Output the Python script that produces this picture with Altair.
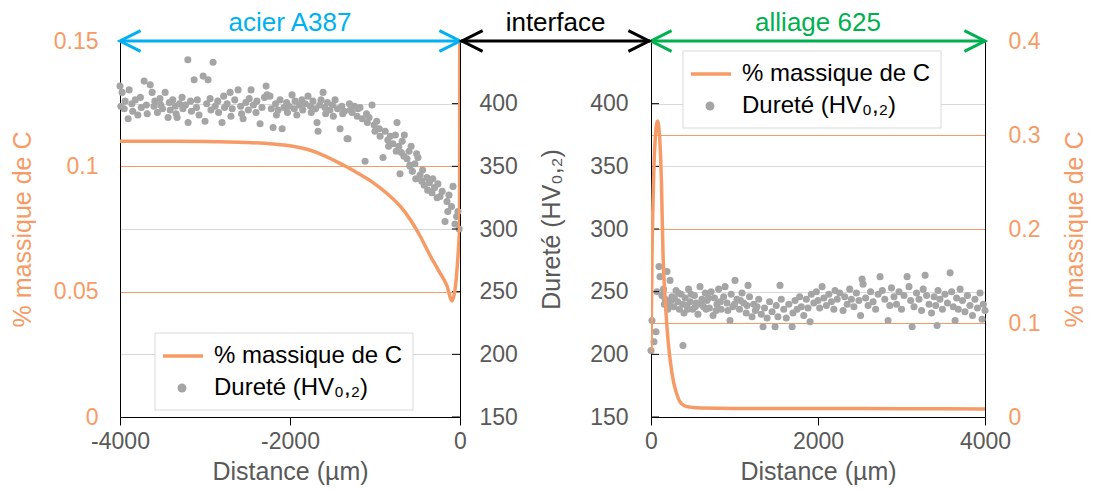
import altair as alt
import pandas as pd

# ---------------- data ----------------
left_hardness = [
    (-4000, 414), (-3990, 398), (-3975, 409), (-3950, 396), (-3940, 402), (-3904, 388), (-3892, 411),
    (-3860, 400), (-3850, 394), (-3820, 403), (-3790, 391), (-3760, 405), (-3750, 397), (-3716, 418),
    (-3690, 399), (-3680, 392), (-3645, 415), (-3622, 409), (-3600, 398), (-3590, 402), (-3560, 393),
    (-3530, 404), (-3520, 399), (-3500, 396), (-3469, 409), (-3434, 389), (-3420, 401), (-3410, 395),
    (-3380, 403), (-3350, 398), (-3340, 392), (-3328, 389), (-3300, 400), (-3270, 405), (-3260, 396),
    (-3230, 399), (-3202, 435), (-3199, 385), (-3170, 402), (-3160, 394), (-3128, 419), (-3100, 397),
    (-3090, 403), (-3070, 391), (-3022, 422), (-3000, 386), (-2980, 400), (-2964, 419), (-2940, 404),
    (-2930, 395), (-2905, 433), (-2880, 398), (-2850, 402), (-2840, 393), (-2800, 385), (-2780, 406),
    (-2770, 397), (-2740, 400), (-2705, 409), (-2695, 390), (-2680, 396), (-2650, 403), (-2611, 411),
    (-2580, 398), (-2570, 392), (-2552, 388), (-2520, 401), (-2490, 395), (-2480, 404), (-2458, 411),
    (-2430, 399), (-2400, 393), (-2390, 402), (-2352, 384), (-2330, 397), (-2300, 405), (-2281, 414),
    (-2270, 407), (-2235, 406), (-2220, 396), (-2199, 381), (-2170, 400), (-2160, 391), (-2140, 395),
    (-2117, 403), (-2093, 380), (-2070, 397), (-2040, 401), (-2030, 393), (-2010, 398), (-1976, 407),
    (-1950, 396), (-1940, 402), (-1920, 391), (-1890, 399), (-1860, 403), (-1850, 395), (-1820, 400),
    (-1788, 406), (-1760, 398), (-1750, 393), (-1730, 402), (-1700, 396), (-1682, 385), (-1670, 378),
    (-1650, 399), (-1635, 403), (-1611, 409), (-1590, 397), (-1580, 392), (-1560, 401), (-1530, 395),
    (-1500, 399), (-1490, 390), (-1470, 403), (-1440, 396), (-1411, 380), (-1390, 398), (-1380, 392),
    (-1360, 394), (-1329, 372), (-1317, 372), (-1300, 400), (-1290, 395), (-1270, 393), (-1240, 398),
    (-1210, 390), (-1200, 396), (-1176, 397), (-1150, 388), (-1117, 354), (-1100, 392), (-1090, 385),
    (-1070, 389), (-1035, 399), (-1010, 383), (-1000, 378), (-980, 386), (-950, 380), (-940, 374),
    (-906, 357), (-880, 378), (-850, 371), (-840, 366), (-820, 374), (-790, 368), (-760, 375),
    (-750, 362), (-741, 385), (-720, 366), (-706, 344), (-690, 361), (-680, 370), (-655, 375),
    (-660, 358), (-623, 356), (-600, 362), (-590, 351), (-588, 350), (-575, 366), (-560, 346),
    (-530, 352), (-520, 340), (-510, 360), (-494, 357), (-470, 343), (-450, 338), (-440, 347),
    (-420, 335), (-390, 341), (-380, 331), (-360, 337), (-330, 329), (-320, 340), (-300, 333),
    (-270, 325), (-260, 336), (-235, 326), (-210, 330), (-176, 306), (-153, 322), (-143, 314),
    (-130, 327), (-100, 318), (-82, 334), (-59, 304), (-40, 310), (-24, 314), (-10, 300),
]

right_hardness = [
    (0, 203), (12, 227), (36, 210), (60, 218), (72, 250), (96, 270), (108, 262), (130, 247),
    (150, 252), (160, 240), (170, 244), (192, 266), (200, 236), (210, 240), (228, 259), (240, 243),
    (250, 246), (270, 238), (280, 245), (300, 251), (320, 242), (330, 249), (340, 236), (360, 248),
    (380, 240), (383, 207), (395, 233), (410, 245), (430, 239), (440, 236), (450, 252), (470, 242),
    (480, 248), (500, 236), (520, 247), (530, 238), (540, 241), (563, 232), (587, 254), (600, 240),
    (610, 244), (630, 238), (650, 249), (660, 236), (670, 243), (690, 245), (700, 237), (720, 250),
    (743, 231), (760, 245), (780, 235), (790, 240), (810, 252), (830, 242), (840, 236), (870, 246),
    (887, 254), (910, 241), (920, 235), (946, 227), (960, 248), (980, 238), (1000, 240), (1006, 259),
    (1030, 244), (1060, 236), (1070, 243), (1090, 249), (1110, 241), (1140, 233), (1150, 239),
    (1162, 255), (1180, 246), (1210, 230), (1230, 240), (1250, 235), (1270, 238), (1290, 244),
    (1320, 232), (1342, 222), (1360, 237), (1390, 229), (1420, 242), (1450, 234), (1486, 222),
    (1500, 239), (1520, 230), (1545, 255), (1560, 244), (1590, 236), (1620, 229), (1650, 240),
    (1690, 222), (1700, 233), (1725, 243), (1750, 236), (1780, 246), (1800, 238), (1830, 231),
    (1860, 244), (1880, 237), (1905, 226), (1920, 248), (1950, 241), (1980, 250), (2000, 243),
    (2020, 237), (2049, 254), (2070, 245), (2100, 239), (2130, 248), (2160, 242), (2190, 236),
    (2204, 251), (2230, 244), (2260, 249), (2300, 235), (2320, 246), (2350, 240), (2380, 252),
    (2400, 244), (2430, 238), (2460, 249), (2490, 243), (2510, 231), (2528, 260), (2540, 256),
    (2570, 245), (2600, 239), (2630, 250), (2660, 242), (2690, 236), (2720, 248), (2743, 262),
    (2770, 251), (2800, 244), (2839, 227), (2860, 239), (2880, 253), (2910, 246), (2940, 240),
    (2970, 250), (3000, 236), (3030, 247), (3067, 262), (3090, 254), (3110, 243), (3127, 222),
    (3150, 238), (3180, 249), (3210, 244), (3240, 235), (3260, 252), (3283, 263), (3300, 247),
    (3330, 240), (3360, 233), (3390, 246), (3410, 239), (3426, 223), (3438, 251), (3460, 244),
    (3490, 236), (3520, 248), (3550, 241), (3582, 265), (3600, 250), (3620, 238), (3642, 227),
    (3660, 245), (3680, 236), (3702, 252), (3730, 243), (3760, 234), (3790, 247), (3820, 239),
    (3850, 231), (3880, 244), (3910, 237), (3940, 249), (3965, 228), (3980, 240), (4000, 235),
]

left_carbon_dist = [-4000, -3500, -3000, -2500, -2200, -2000, -1800, -1646, -1500, -1329,
                    -1180, -1023, -860, -706, -580, -470, -353, -250, -153, -94, -5, 0]
left_carbon = [0.1100, 0.1100, 0.1099, 0.1095, 0.1089, 0.1082, 0.1068, 0.1050, 0.1027,
               0.0997, 0.0968, 0.0935, 0.0892, 0.0842, 0.0785, 0.0722, 0.0645, 0.0583, 0.0523,
               0.0463, 0.075, 0.31]

right_carbon_dist = [0, 12, 30, 50, 78, 105, 125, 144, 170, 204, 228, 264, 300, 347, 400, 467,
                     600, 1000, 2000, 3000, 4000]
right_carbon = [0.069, 0.17, 0.25, 0.295, 0.315, 0.295, 0.25, 0.173, 0.125, 0.082, 0.062, 0.040,
                0.027, 0.016, 0.012, 0.0105, 0.0095, 0.009, 0.009, 0.0088, 0.0086]

hv_ticks = [150, 200, 250, 300, 350, 400]
c_ticks_left = [0, 0.05, 0.1, 0.15]
c_ticks_right = [0, 0.1, 0.2, 0.3, 0.4]
x_ticks_left = [-4000, -2000, 0]
x_ticks_right = [0, 2000, 4000]

region_labels = ["acier A387", "interface", "alliage 625"]
region_colors = ["#00B0F0", "#000000", "#00B050"]

legend_labels = ["% massique de C", "Dureté (HV\u2080,\u2082)"]

# ---------------- style ----------------
FONT = "Liberation Sans"
ORANGE = "#F79B66"
PT = "#A5A5A5"
TXT = "#595959"
GRID = "#D9D9D9"
W_L, W_R, H = 340, 334, 376
LEFT_HEAD = "M 1 -0.5 L 0 0 L 1 0.5"
RIGHT_HEAD = "M -1 -0.5 L 0 0 L -1 0.5"
HEAD_SIZE = 1700

one = pd.DataFrame({"k": [0]})


def x_enc(domain, values):
    return alt.X(
        "d:Q",
        scale=alt.Scale(domain=domain, nice=False, zero=False),
        axis=alt.Axis(values=values, labelExpr="'' + datum.value", title="Distance (µm)",
                      grid=False, tickColor="black", tickSize=8, domainColor="black",
                      labelColor=TXT, titleColor=TXT, labelPadding=5, titlePadding=6,
                      labelFlush=False),
    )


def hv_enc(orient, title, label_padding, title_padding):
    kw = dict(orient=orient, values=hv_ticks, ticks=False, grid=True, gridColor=GRID,
              domainColor="black", labelColor=TXT, titleColor=TXT, labelPadding=label_padding)
    if title:
        kw["title"] = title
        kw["titlePadding"] = title_padding
    else:
        kw["title"] = None
    return alt.Y("hv:Q", scale=alt.Scale(domain=[150, 450], nice=False, zero=False),
                 axis=alt.Axis(**kw))


def arrow(domain_start, domain_end, label, color, xdomain, xvalues):
    df = pd.DataFrame({"d": [domain_start], "d2": [domain_end],
                       "mid": [(domain_start + domain_end) / 2], "label": [label]})
    base = alt.Chart(df)
    line = base.mark_rule(color=color, strokeWidth=3).encode(
        x=x_enc(xdomain, xvalues), x2="d2:Q", y=alt.value(0))
    h1 = base.mark_point(shape=LEFT_HEAD, size=HEAD_SIZE, color=color, strokeWidth=3,
                         filled=False, opacity=1).encode(x=x_enc(xdomain, xvalues), y=alt.value(0))
    h2 = base.mark_point(shape=RIGHT_HEAD, size=HEAD_SIZE, color=color, strokeWidth=3,
                         filled=False, opacity=1).encode(
        x=alt.X("d2:Q", scale=alt.Scale(domain=xdomain, nice=False, zero=False)), y=alt.value(0))
    txt = base.mark_text(font=FONT, fontSize=26, color=color, baseline="alphabetic").encode(
        x=alt.X("mid:Q", scale=alt.Scale(domain=xdomain, nice=False, zero=False)),
        y=alt.value(-10), text="label:N")
    return [line, h1, h2, txt]


def legend(x0, y0):
    box = alt.Chart(one).mark_rect(fill="white", stroke="#D9D9D9", strokeWidth=1).encode(
        x=alt.value(x0), x2=alt.value(x0 + 258), y=alt.value(y0), y2=alt.value(y0 + 77))
    ln = alt.Chart(one).mark_rule(color=ORANGE, strokeWidth=3.5).encode(
        x=alt.value(x0 + 8), x2=alt.value(x0 + 48), y=alt.value(y0 + 23))
    pt = alt.Chart(one).mark_circle(size=80, color=PT, opacity=1).encode(
        x=alt.value(x0 + 27), y=alt.value(y0 + 55))
    tdf = pd.DataFrame({"t": legend_labels})
    t1 = alt.Chart(tdf.iloc[[0]]).mark_text(font=FONT, fontSize=24, color="black", align="left",
                                            baseline="middle").encode(
        x=alt.value(x0 + 59), y=alt.value(y0 + 23), text="t:N")
    t2 = alt.Chart(tdf.iloc[[1]]).mark_text(font=FONT, fontSize=24, color="black", align="left",
                                            baseline="middle").encode(
        x=alt.value(x0 + 59), y=alt.value(y0 + 55), text="t:N")
    return [box, ln, pt, t1, t2]


tick_df = pd.DataFrame({"hv": hv_ticks})

# ---------------- left panel ----------------
lh = pd.DataFrame(left_hardness, columns=["d", "hv"])
lc = pd.DataFrame({"d": left_carbon_dist, "c": left_carbon, "i": list(range(len(left_carbon)))})
XL = x_enc([-4000, 0], x_ticks_left)
YHL = hv_enc("right", None, 19, 0)

pts_l = alt.Chart(lh).mark_circle(size=50, color=PT, opacity=1).encode(x=XL, y=YHL)
ticks_l = alt.Chart(tick_df).mark_rule(color="black", strokeWidth=1).encode(
    x=alt.value(W_L - 8), x2=alt.value(W_L), y=YHL)
hv_layer_l = alt.layer(pts_l, ticks_l)

line_l = alt.Chart(lc).mark_line(color=ORANGE, strokeWidth=3.5, clip=True,
                                 interpolate="monotone").encode(
    x=XL,
    y=alt.Y("c:Q", scale=alt.Scale(domain=[0, 0.15], nice=False, zero=False),
            axis=alt.Axis(orient="left", values=c_ticks_left, labelExpr="'' + datum.value",
                          ticks=False, grid=True, gridColor=ORANGE, domainColor="black",
                          labelColor=ORANGE, titleColor=ORANGE, title="% massique de C",
                          labelPadding=22, titlePadding=18)),
    order="i:Q",
)

left = alt.layer(
    hv_layer_l, line_l,
    *arrow(-4000, 0, region_labels[0], region_colors[0], [-4000, 0], x_ticks_left),
    *legend(35, 292),
).resolve_scale(y="independent").properties(width=W_L, height=H)

# ---------------- right panel ----------------
rh = pd.DataFrame(right_hardness, columns=["d", "hv"])
rc = pd.DataFrame({"d": right_carbon_dist, "c": right_carbon, "i": list(range(len(right_carbon)))})
XR = x_enc([0, 4000], x_ticks_right)
YHR = hv_enc("left", "Dureté (HV\u2080,\u2082)", 23, 25)

pts_r = alt.Chart(rh).mark_circle(size=50, color=PT, opacity=1).encode(x=XR, y=YHR)
ticks_r = alt.Chart(tick_df).mark_rule(color="black", strokeWidth=1).encode(
    x=alt.value(0), x2=alt.value(8), y=YHR)
hv_layer_r = alt.layer(pts_r, ticks_r)

line_r = alt.Chart(rc).mark_line(color=ORANGE, strokeWidth=3.5, clip=True,
                                 interpolate="monotone").encode(
    x=XR,
    y=alt.Y("c:Q", scale=alt.Scale(domain=[0, 0.4], nice=False, zero=False),
            axis=alt.Axis(orient="right", values=c_ticks_right, labelExpr="'' + datum.value",
                          ticks=False, grid=True, gridColor=ORANGE, domainColor="black",
                          labelColor=ORANGE, titleColor=ORANGE, title="% massique de C",
                          titleAngle=270, labelPadding=23, titlePadding=48)),
    order="i:Q",
)

# interface arrow between the panels (pixel positions relative to right panel)
iface = pd.DataFrame({"label": [region_labels[1]]})
GAP = 191
if_line = alt.Chart(iface).mark_rule(color=region_colors[1], strokeWidth=3).encode(
    x=alt.value(-GAP + 1), x2=alt.value(-1), y=alt.value(0))
if_h1 = alt.Chart(iface).mark_point(shape=LEFT_HEAD, size=HEAD_SIZE, color=region_colors[1],
                                    strokeWidth=3, filled=False, opacity=1).encode(
    x=alt.value(-GAP + 2), y=alt.value(0))
if_h2 = alt.Chart(iface).mark_point(shape=RIGHT_HEAD, size=HEAD_SIZE, color=region_colors[1],
                                    strokeWidth=3, filled=False, opacity=1).encode(
    x=alt.value(-2), y=alt.value(0))
if_t = alt.Chart(iface).mark_text(font=FONT, fontSize=26, color=region_colors[1],
                                  baseline="alphabetic").encode(
    x=alt.value(-GAP / 2), y=alt.value(-10), text="label:N")

right = alt.layer(
    hv_layer_r, line_r,
    *arrow(0, 4000, region_labels[2], region_colors[2], [0, 4000], x_ticks_right),
    if_line, if_h1, if_h2, if_t,
    *legend(32, 10),
).resolve_scale(y="independent").properties(width=W_R, height=H)

chart = alt.hconcat(left, right, spacing=GAP, bounds="flush").properties(
    padding={"left": 2, "right": 0, "top": 2, "bottom": 2}
).configure_view(stroke=None).configure_axis(
    labelFont=FONT, titleFont=FONT, labelFontSize=23, titleFontSize=25,
    titleFontWeight="normal", domainWidth=1,
)

chart.save("out.html", embed_options={"renderer": "svg", "actions": False})
